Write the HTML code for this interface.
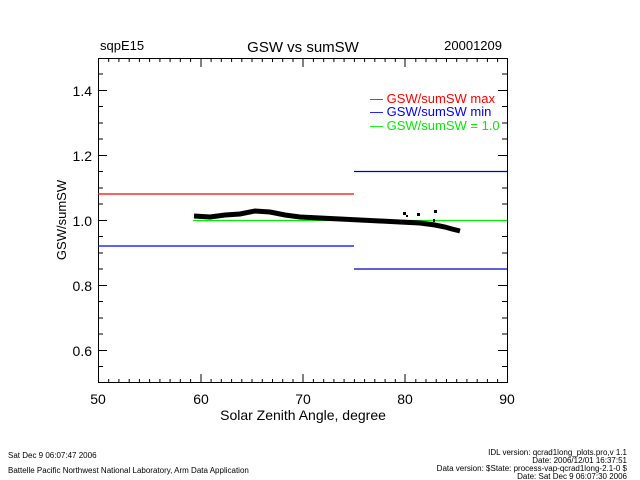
<!DOCTYPE html>
<html><head><meta charset="utf-8"><style>
body{margin:0;background:#fff;}
svg{display:block;font-family:"Liberation Sans",sans-serif;}
</style></head><body>
<svg width="640" height="480" viewBox="0 0 640 480" xmlns="http://www.w3.org/2000/svg">
<rect width="640" height="480" fill="#fff"/>
<g font-size="13" fill="#000">
<text x="100" y="50">sqpE15</text>
<text x="303" y="52" text-anchor="middle" font-size="15">GSW vs sumSW</text>
<text x="502" y="50" text-anchor="end">20001209</text>
</g>
<g stroke="#000" stroke-width="1" fill="none">
<rect x="98.5" y="58.5" width="409" height="324"/>
<path d="M98.5 383v-9M201 383v-9M303 383v-9M405 383v-9M507.5 383v-9M98.5 58v9M201 58v9M303 58v9M405 58v9"/>
<path d="M108.7 383v-4M118.9 383v-4M129.2 383v-4M139.4 383v-4M149.6 383v-4M159.9 383v-4M170.1 383v-4M180.3 383v-4M190.6 383v-4M211.1 383v-4M221.3 383v-4M231.6 383v-4M241.8 383v-4M252 383v-4M262.3 383v-4M272.5 383v-4M282.7 383v-4M293 383v-4M313.4 383v-4M323.7 383v-4M333.9 383v-4M344.1 383v-4M354.4 383v-4M364.6 383v-4M374.8 383v-4M385.1 383v-4M395.3 383v-4M415.8 383v-4M426 383v-4M436.2 383v-4M446.5 383v-4M456.7 383v-4M466.9 383v-4M477.2 383v-4M487.4 383v-4M497.6 383v-4
M108.7 58v4M118.9 58v4M129.2 58v4M139.4 58v4M149.6 58v4M159.9 58v4M170.1 58v4M180.3 58v4M190.6 58v4M211.1 58v4M221.3 58v4M231.6 58v4M241.8 58v4M252 58v4M262.3 58v4M272.5 58v4M282.7 58v4M293 58v4M313.4 58v4M323.7 58v4M333.9 58v4M344.1 58v4M354.4 58v4M364.6 58v4M374.8 58v4M385.1 58v4M395.3 58v4M415.8 58v4M426 58v4M436.2 58v4M446.5 58v4M456.7 58v4M466.9 58v4M477.2 58v4M487.4 58v4M497.6 58v4"/>
<path d="M98 90.5h9M98 155.5h9M98 220.5h9M98 285.5h9M98 350.5h9M507 90.5h-9M507 155.5h-9M507 220.5h-9M507 285.5h-9M507 350.5h-9
M98 74h5M98 106.5h5M98 123h5M98 139h5M98 171.5h5M98 188h5M98 204h5M98 236.5h5M98 253h5M98 269h5M98 301.5h5M98 318h5M98 334h5M98 366.5h5
M507 74h-5M507 106.5h-5M507 123h-5M507 139h-5M507 171.5h-5M507 188h-5M507 204h-5M507 236.5h-5M507 253h-5M507 269h-5M507 301.5h-5M507 318h-5M507 334h-5M507 366.5h-5"/>
</g>
<g font-size="14" fill="#000">
<text x="92" y="96" text-anchor="end">1.4</text>
<text x="92" y="161" text-anchor="end">1.2</text>
<text x="92" y="226" text-anchor="end">1.0</text>
<text x="92" y="291" text-anchor="end">0.8</text>
<text x="92" y="356" text-anchor="end">0.6</text>
<text x="98" y="404" text-anchor="middle">50</text>
<text x="201" y="404" text-anchor="middle">60</text>
<text x="303" y="404" text-anchor="middle">70</text>
<text x="405" y="404" text-anchor="middle">80</text>
<text x="507" y="404" text-anchor="middle">90</text>
<text x="303" y="420" text-anchor="middle">Solar Zenith Angle, degree</text>
<text transform="translate(66 220) rotate(-90)" text-anchor="middle" font-size="13">GSW/sumSW</text>
</g>
<g stroke-width="1.3" fill="none">
<path d="M98 194h256" stroke="#f00"/>
<path d="M98 246h256" stroke="#00f"/>
<path d="M354 171.5h153M354 269h153" stroke="#00c"/>
<path d="M193 220.5h314" stroke="#0e0"/>
</g>
<path d="M194 216 L210 217 L225 215 L240 214 L255 211 L270 212 L285 215 L300 217 L320 218 L340 219 L360 220 L380 221 L400 222 L420 223 L435 225 L445 227 L452 229 L460 231" stroke="#000" stroke-width="5" fill="none"/>
<g fill="#000">
<rect x="403" y="212" width="3" height="3"/><rect x="406" y="215" width="2" height="2"/>
<rect x="417" y="213" width="3" height="3"/><rect x="434" y="210" width="3" height="3"/>
<rect x="433" y="219" width="2" height="3"/><rect x="455" y="229" width="2" height="2"/>
</g>
<g font-size="13">
<text x="370" y="103" fill="#f00">— GSW/sumSW max</text>
<text x="370" y="116" fill="#00f">— GSW/sumSW min</text>
<text x="370" y="130" fill="#0e0">— GSW/sumSW = 1.0</text>
</g>
<g font-size="8" fill="#000">
<text x="8" y="458">Sat Dec  9 06:07:47 2006</text>
<text x="8" y="473">Battelle Pacific Northwest National Laboratory, Arm Data Application</text>
<text x="627" y="455" text-anchor="end">IDL version: qcrad1long_plots.pro,v 1.1</text>
<text x="627" y="463" text-anchor="end">Date: 2006/12/01 16:37:51</text>
<text x="627" y="471" text-anchor="end">Data version: $State: process-vap-qcrad1long-2.1-0 $</text>
<text x="627" y="479" text-anchor="end">Date: Sat Dec  9 06:07:30 2006</text>
</g>
</svg>
</body></html>
